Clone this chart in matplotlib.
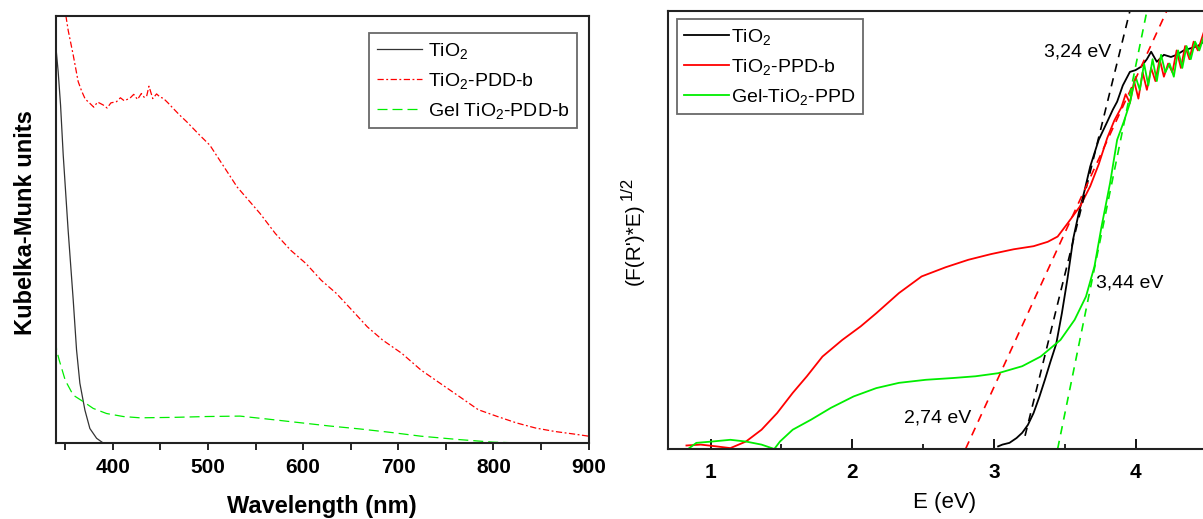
import matplotlib
matplotlib.use('Agg')
import matplotlib.pyplot as plt
from matplotlib.ticker import MultipleLocator

plt.rcParams['font.family'] = ['Liberation Sans', 'DejaVu Sans']
plt.rcParams['mathtext.default'] = 'regular'

# ---- left panel: Kubelka-Munk spectra (arbitrary units, 0-100)
tio2_wl = [340, 340.2, 342.6, 345.1, 347.9, 353, 358.4, 361.9, 365.4, 370.7, 375.9, 383, 389.3]
tio2_km = [70, 92.7, 86.9, 79.1, 67.4, 50, 33.5, 21.8, 14, 7.7, 3.4, 1.1, 0.1]

pdd_wl = [350.7, 353.1, 358.4, 363.6, 367.2, 371, 375.9, 380, 384, 390, 394, 398, 404, 408, 412,
          418, 422, 426, 430, 433, 435.5, 438, 442, 446, 450, 453, 458, 463.5, 470, 477.6,
          491.5, 502, 514.6, 530.7, 554.8, 570.9, 587, 603, 619, 635, 651.3, 667.4, 683.5,
          703.6, 723.7, 743.8, 764, 784, 804.2, 824.3, 844.4, 864.5, 884.6, 900]
pdd_km = [100, 96.6, 90.8, 84.6, 82.4, 80.5, 79.5, 78.6, 79.8, 79.1, 78.4, 79.6, 79.9, 80.8, 80.1,
          80.7, 81.6, 80.4, 81.8, 80.9, 81.1, 83.5, 80.6, 81.7, 80.9, 80.7, 79.6, 78.3, 76.8, 75.2,
          72, 69.7, 65.4, 59.9, 53.7, 49, 45.1, 42, 38.1, 35, 31.1, 27.2, 24.1,
          21, 17.1, 14, 10.9, 7.8, 6.2, 4.7, 3.5, 2.7, 2.1, 1.6]

gel_wl = [340.2, 340.9, 343.7, 350, 358.4, 368.9, 379.4, 393.5, 411, 428.5, 463.5, 498.6, 533.6,
          562.8, 595, 627, 659.3, 691.4, 723.7, 764, 800, 830, 900]
gel_km = [24.1, 21.8, 19.4, 14.7, 11.2, 9.7, 8.1, 6.9, 6.2, 5.9, 6.0, 6.2, 6.3,
          5.6, 4.8, 4.0, 3.3, 2.5, 1.6, 0.8, 0.2, 0.0, 0.0]

# ---- right panel: Tauc plot (arbitrary units, 0-100)
tio2_e = [3.03, 3.06, 3.11, 3.16, 3.20, 3.24, 3.28, 3.32, 3.36, 3.40, 3.44, 3.48, 3.52, 3.56, 3.60,
          3.64, 3.68, 3.74, 3.80, 3.84, 3.87, 3.91, 3.96, 4.00, 4.04, 4.08, 4.11, 4.15, 4.20, 4.25,
          4.29, 4.34, 4.39, 4.44, 4.48]
tio2_f = [0.6, 1.0, 1.4, 2.5, 3.7, 5.5, 8.2, 11.8, 15.8, 20, 24, 31, 39, 48, 54,
          59, 64.5, 70.6, 74.7, 77.5, 79.3, 83, 86.1, 86.5, 87.3, 89, 90.7, 88.4, 90, 89.5,
          90, 91, 91.5, 92, 93]

ppd_e = [0.83, 0.93, 1.04, 1.14, 1.25, 1.36, 1.47, 1.58, 1.68, 1.79, 1.93, 2.06, 2.17, 2.33, 2.49,
         2.66, 2.82, 2.98, 3.14, 3.28, 3.38, 3.45, 3.52, 3.61, 3.68, 3.74, 3.80, 3.85, 3.90, 3.93,
         3.96, 3.99, 4.02, 4.05, 4.08, 4.11, 4.14, 4.17, 4.20, 4.23, 4.26, 4.29, 4.32, 4.35, 4.38,
         4.41, 4.44, 4.48]
ppd_f = [0.8, 1.0, 0.6, 0.2, 1.7, 4.4, 8.2, 12.8, 16.6, 21.1, 24.9, 28, 31, 35.6, 39.4,
         41.5, 43.2, 44.5, 45.6, 46.3, 47.3, 48.5, 51.5, 55.5, 60, 65, 71, 75, 78, 81,
         79, 84, 80, 86, 82, 87, 84, 89, 85, 88, 86, 91, 87, 92, 89,
         93, 91, 95]

gel_e = [0.85, 0.9, 1.01, 1.14, 1.25, 1.36, 1.45, 1.49, 1.58, 1.71, 1.85, 2.01, 2.17, 2.33, 2.52,
         2.71, 2.87, 3.03, 3.20, 3.33, 3.47, 3.57, 3.65, 3.71, 3.76, 3.82, 3.87, 3.92, 3.96, 4.00,
         4.03, 4.06, 4.09, 4.12, 4.15, 4.18, 4.21, 4.24, 4.27, 4.30, 4.33, 4.36, 4.39, 4.42, 4.45,
         4.48]
gel_f = [0.2, 1.4, 1.7, 2.1, 1.7, 1.0, 0.0, 1.7, 4.4, 6.7, 9.4, 12.0, 13.9, 15.1, 15.8,
         16.2, 16.6, 17.3, 18.9, 21.1, 24.9, 29.5, 34.8, 41.7, 50.8, 60.7, 70.6, 75, 79, 85,
         82, 88, 83, 89, 84, 90, 86, 88, 85, 91, 87, 92, 89, 93, 91,
         94]

# band-gap tangents
tan_tio2 = ([3.22, 3.96], [3, 100])
tan_ppd = ([2.80, 4.22], [0, 100])
tan_gel = ([3.45, 4.08], [0, 100])

RED = '#ff0000'
GREEN = '#00ee00'

fig = plt.figure(figsize=(12.03, 5.19), dpi=100)

# left
ax1 = fig.add_axes([0.0463, 0.1464, 0.4430, 0.8233])
ax1.plot(tio2_wl, tio2_km, color='#333333', lw=0.9, label='TiO$_2$')
ax1.plot(pdd_wl, pdd_km, color=RED, lw=0.9, linestyle=(0, (5, 2, 1.5, 2)), label='TiO$_2$-PDD-b')
ax1.plot(gel_wl, gel_km, color=GREEN, lw=0.9, linestyle=(0, (8, 4)), label='Gel TiO$_2$-PDD-b')
ax1.set_xlim(340, 900)
ax1.set_ylim(0, 100)
ax1.set_yticks([])
ax1.xaxis.set_major_locator(MultipleLocator(100))
ax1.xaxis.set_minor_locator(MultipleLocator(50))
ax1.tick_params(axis='x', which='both', direction='out', length=5, width=1.2, pad=6,
                labelsize=15)
for lab in ax1.get_xticklabels():
    lab.set_fontweight('bold')
ax1.set_xlabel('Wavelength (nm)', fontsize=17, fontweight='bold', labelpad=13)
ax1.set_ylabel('Kubelka-Munk units', fontsize=17, fontweight='bold')
ax1.yaxis.set_label_coords(-0.036, 0.516)
for s in ax1.spines.values():
    s.set_linewidth(1.5)
    s.set_color('#222222')
leg1 = ax1.legend(loc='upper left', bbox_to_anchor=(0.5885, 0.9588), borderaxespad=0,
                  fontsize=14, handlelength=2.3, handletextpad=0.3, labelspacing=0.5,
                  fancybox=False, frameon=True, borderpad=0.4)
leg1.get_frame().set_edgecolor('#444444')
leg1.get_frame().set_linewidth(1.3)

# right
ax2 = fig.add_axes([0.5553, 0.1349, 0.4593, 0.8439])
ax2.plot(tio2_e, tio2_f, color='black', lw=1.3, label='TiO$_2$')
ax2.plot(ppd_e, ppd_f, color=RED, lw=1.3, label='TiO$_2$-PPD-b')
ax2.plot(gel_e, gel_f, color=GREEN, lw=1.3, label='Gel-TiO$_2$-PPD')
ax2.plot(*tan_tio2, color='black', lw=1.2, linestyle=(0, (5, 4)))
ax2.plot(*tan_ppd, color=RED, lw=1.2, linestyle=(0, (5, 4)))
ax2.plot(*tan_gel, color=GREEN, lw=1.2, linestyle=(0, (5, 4)))
ax2.text(3.59, 90.6, '3,24 eV', fontsize=14, ha='center', va='center')
ax2.text(3.96, 37.8, '3,44 eV', fontsize=14, ha='center', va='center')
ax2.text(2.60, 7.0, '2,74 eV', fontsize=14, ha='center', va='center')
ax2.set_xlim(0.7, 4.6)
ax2.set_ylim(0, 100)
ax2.set_yticks([])
ax2.xaxis.set_major_locator(MultipleLocator(1))
ax2.xaxis.set_minor_locator(MultipleLocator(0.5))
ax2.tick_params(axis='x', which='major', direction='in', length=7, width=1.3, pad=10,
                labelsize=15)
ax2.tick_params(axis='x', which='minor', direction='in', length=3.5, width=1.2)
for lab in ax2.get_xticklabels():
    lab.set_fontweight('bold')
ax2.set_xlabel('E (eV)', fontsize=16, labelpad=7)
# y label of the Tauc plot, with a large exponent as in the original
fig.text(0.527, 0.529, "(F(R')*E)", fontsize=15, rotation=90, ha='center', va='center')
fig.text(0.5215, 0.637, "1/2", fontsize=12, rotation=90, ha='center', va='center')
for s in ax2.spines.values():
    s.set_linewidth(1.5)
    s.set_color('#222222')
leg2 = ax2.legend(loc='upper left', bbox_to_anchor=(0.0154, 0.981), borderaxespad=0,
                  fontsize=14, handlelength=2.3, handletextpad=0.1, labelspacing=0.5,
                  fancybox=False, frameon=True, borderpad=0.4)
leg2.get_frame().set_edgecolor('#444444')
leg2.get_frame().set_linewidth(1.3)

fig.savefig('out.png', dpi=100)
